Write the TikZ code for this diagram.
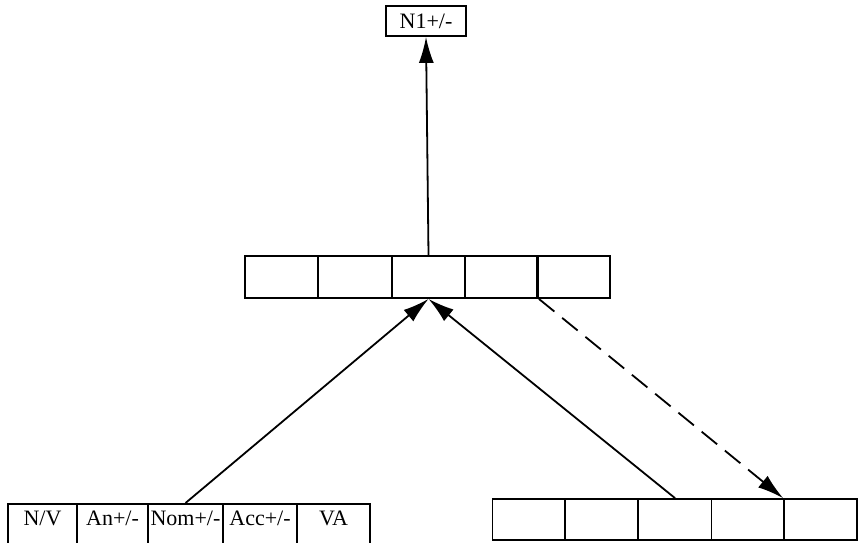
\documentclass[tikz,border=0pt]{standalone}
\usepackage{fontspec}
\setmainfont{Liberation Serif}
\usetikzlibrary{arrows.meta}

\begin{document}
\begin{tikzpicture}[
  x=1pt, y=-1pt,
  every node/.style={font=\fontsize{22}{25}\selectfont},
  cell/.style={draw, line width=1.8pt, minimum width=73pt, minimum height=42pt, inner sep=0pt},
  feat/.style={draw, line width=1.8pt, anchor=north, minimum width=73pt, inner xsep=0pt,
    inner ysep=6pt, text height=16pt, text depth=32pt},
  link/.style={line width=1.8pt, -{Latex[length=26pt,width=15pt]}},
]
\useasboundingbox (0,0) rectangle (861,542);

% output unit
\node [draw, line width=1.8pt, minimum width=80pt, minimum height=30pt, inner sep=0pt] (out) at (426,21) {N1+/-};

% hidden layer
\node [cell] (h1) at (281.5,277) {};
\node [cell] (h2) at (355,277) {};
\node [cell] (h3) at (428.5,277) {};
\node [cell] (h4) at (501.5,277) {};
\node [cell] (h5) at (573.5,277) {};

% input features
\node [feat, minimum width=69pt] (f1) at (42.5,503) {N/V};
\node [feat, minimum width=71pt] (f2) at (112.5,503) {An+/-};
\node [feat, minimum width=75pt] (f3) at (185.5,503) {Nom+/-};
\node [feat, minimum width=74pt] (f4) at (260,503) {Acc+/-};
\node [feat] (f5) at (333.5,503) {VA};

% context units
\node [cell, minimum height=41pt] (c1) at (529,519.5) {};
\node [cell, minimum height=41pt] (c2) at (601.5,519.5) {};
\node [cell, minimum height=41pt] (c3) at (675,519.5) {};
\node [cell, minimum height=41pt] (c4) at (748,519.5) {};
\node [cell, minimum height=41pt] (c5) at (820.5,519.5) {};

\draw [link] (h3.north) -- (out.south);
\draw [link] (f3.north) -- (h3.south);
\draw [link] (c3.north) -- (h3.south);
\draw [link, dash pattern=on 20pt off 10pt] (h4.south east) -- (c5.north west);

\end{tikzpicture}
\end{document}
